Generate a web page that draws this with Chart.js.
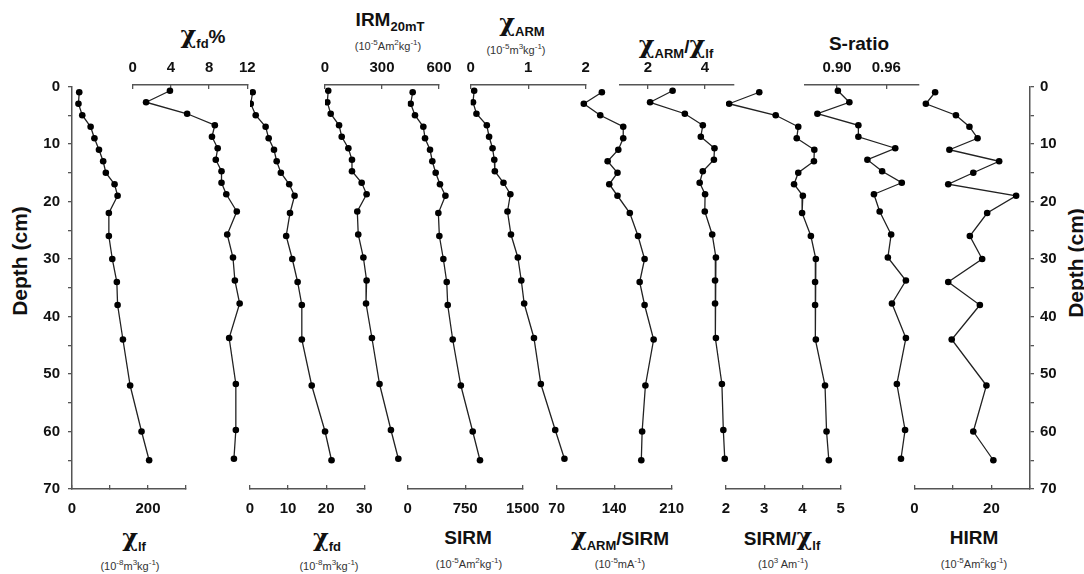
<!DOCTYPE html>
<html>
<head>
<meta charset="utf-8">
<script src="https://cdn.jsdelivr.net/npm/chart.js@4.4.0/dist/chart.umd.min.js"></script>
<style>
  body { margin: 0; background: #fff; }
  #wrap { position: relative; width: 1084px; height: 574px; font-family: "Liberation Sans", Arial, sans-serif; color: #111; }
  #wrap canvas { position: absolute; left: 0; top: 0; }
  .t { position: absolute; transform: translate(-50%, -50%); white-space: nowrap; font-weight: bold; font-size: 19px; line-height: 1; }
  .t .chi { font-family: "DejaVu Serif", serif; font-size: 24px; font-weight: bold; }
  .t sub { font-size: 13px; position: relative; top: 5px; vertical-align: baseline; line-height: 0; }
  .u { position: absolute; transform: translate(-50%, -50%); white-space: nowrap; font-size: 11px; color: #333; line-height: 1; }
  .u sup { font-size: 8px; position: relative; top: -5px; vertical-align: baseline; line-height: 0; }
  .rot { transform: translate(-50%, -50%) rotate(-90deg); font-size: 21px; }
</style>
</head>
<body>
<div id="wrap">
  <!-- top titles -->
  <div class="t" style="left:203px;top:35px"><span class="chi">χ</span><sub>fd</sub>%</div>
  <div class="t" style="left:390px;top:19px">IRM<sub>20mT</sub></div>
  <div class="u" style="left:388px;top:46px">(10<sup>-5</sup>Am<sup>2</sup>kg<sup>-1</sup>)</div>
  <div class="t" style="left:522px;top:23px"><span class="chi">χ</span><sub>ARM</sub></div>
  <div class="u" style="left:516px;top:50px">(10<sup>-5</sup>m<sup>3</sup>kg<sup>-1</sup>)</div>
  <div class="t" style="left:676px;top:45px"><span class="chi">χ</span><sub>ARM</sub>/<span class="chi">χ</span><sub>lf</sub></div>
  <div class="t" style="left:859px;top:43px">S-ratio</div>
  <!-- bottom titles -->
  <div class="t" style="left:134px;top:538px"><span class="chi">χ</span><sub>lf</sub></div>
  <div class="u" style="left:130px;top:566px">(10<sup>-8</sup>m<sup>3</sup>kg<sup>-1</sup>)</div>
  <div class="t" style="left:327px;top:538px"><span class="chi">χ</span><sub>fd</sub></div>
  <div class="u" style="left:329px;top:566px">(10<sup>-8</sup>m<sup>3</sup>kg<sup>-1</sup>)</div>
  <div class="t" style="left:468px;top:537px">SIRM</div>
  <div class="u" style="left:469px;top:564px">(10<sup>-5</sup>Am<sup>2</sup>kg<sup>-1</sup>)</div>
  <div class="t" style="left:620px;top:537px"><span class="chi">χ</span><sub>ARM</sub>/SIRM</div>
  <div class="u" style="left:620px;top:564px">(10<sup>-5</sup>mA<sup>-1</sup>)</div>
  <div class="t" style="left:782px;top:537px">SIRM/<span class="chi">χ</span><sub>lf</sub></div>
  <div class="u" style="left:783px;top:564px">(10<sup>3</sup> Am<sup>-1</sup>)</div>
  <div class="t" style="left:974px;top:537px">HIRM</div>
  <div class="u" style="left:974px;top:564px">(10<sup>-5</sup>Am<sup>2</sup>kg<sup>-1</sup>)</div>
  <!-- depth titles -->
  <div class="t rot" style="left:19px;top:261px">Depth (cm)</div>
  <div class="t rot" style="left:1075px;top:263px">Depth (cm)</div>
</div>
<script>
// sample depths (cm), shared by every profile
const depth = [1, 3, 5, 7, 9, 11, 13, 15, 17, 19, 22, 26, 30, 34, 38, 44, 52, 60, 65];

const chiLf = [19, 17, 27, 49, 59, 71, 82, 89, 112, 120, 97, 97, 106, 118, 120, 134, 153, 183, 203];
const chiFdPct = [3.9, 1.4, 5.7, 8.6, 8.3, 8.9, 8.7, 9.3, 9.3, 9.8, 10.9, 9.9, 10.5, 10.7, 11.2, 10.1, 10.8, 10.8, 10.6];
const chiFd = [0.7, 0.2, 1.5, 4.1, 4.9, 6.3, 7.0, 8.1, 10.3, 11.7, 10.5, 9.5, 11.1, 12.5, 13.6, 13.6, 16.2, 19.7, 21.4];
const irm20 = [17, 12, 30, 74, 88, 123, 142, 142, 193, 219, 170, 175, 202, 219, 216, 247, 287, 347, 386];
const sirm = [65, 39, 95, 204, 226, 291, 321, 365, 421, 492, 400, 413, 465, 509, 522, 587, 693, 848, 943];
const chiArm = [0.06, 0.04, 0.10, 0.28, 0.32, 0.38, 0.41, 0.42, 0.57, 0.69, 0.64, 0.70, 0.82, 0.88, 0.93, 1.10, 1.22, 1.47, 1.63];
const chiArmSirm = [125, 103, 123, 151, 151, 145, 132, 144, 134, 144, 159, 169, 177, 171, 177, 188, 178, 174, 173];
const chiArmChiLf = [2.87, 2.08, 3.3, 3.93, 3.86, 4.34, 4.32, 3.93, 3.82, 4.01, 4.0, 4.26, 4.39, 4.36, 4.36, 4.39, 4.6, 4.65, 4.7];
const sirmChiLf = [2.87, 2.08, 3.3, 3.89, 3.85, 4.31, 4.30, 3.89, 3.78, 4.01, 3.99, 4.22, 4.35, 4.33, 4.33, 4.35, 4.59, 4.63, 4.69];
const sRatio = [0.901, 0.915, 0.876, 0.926, 0.926, 0.971, 0.937, 0.955, 0.979, 0.945, 0.952, 0.966, 0.962, 0.984, 0.967, 0.984, 0.973, 0.983, 0.978];
const hirm = [5.4, 3.0, 10.8, 14.3, 16.4, 9.1, 22.0, 15.3, 8.8, 26.4, 18.9, 14.4, 17.6, 8.8, 17.0, 9.7, 18.7, 15.3, 20.5];

// axis ticks / labels
const depthTicks = [0, 5, 10, 15, 20, 25, 30, 35, 40, 45, 50, 55, 60, 65, 70];
const chiLfTicks = [0, 100, 200, 300], chiLfLabels = [0, 200];
const chiFdPctTicks = [0, 4, 8, 12];
const chiFdTicks = [0, 10, 20, 30];
const irmTicks = [0, 300, 600];
const sirmTicks = [0, 750, 1500];
const chiArmTicks = [0, 1, 2];
const chiArmSirmTicks = [70, 140, 210];
const chiArmChiLfTicks = [2, 4];
const sirmChiLfTicks = [2, 3, 4, 5];
const sRatioTicks = [0.90, 0.96];
const hirmTicks = [0, 10, 20, 30], hirmLabels = [0, 20];

const W = 1084, H = 574, TOP = 86.5, BOTTOM = 489;
const BOX = 40;        // fixed room given to each shown axis so its labels are not clipped
const TOP_SHIFT = 1.5; // the top-axis panels sit a touch higher in the original
const AXIS = '#555', INK = '#111';
const wrap = document.getElementById('wrap');

Chart.defaults.font.family = '"Liberation Sans", Arial, sans-serif';

function panel(cfg) {
  const c = document.createElement('canvas');
  c.width = W;
  c.height = H;
  wrap.appendChild(c);
  const labels = cfg.labels || cfg.ticks;
  const top = cfg.pos === 'top';
  const areaTop = top ? TOP - TOP_SHIFT : TOP;
  const areaBottom = top ? BOTTOM - TOP_SHIFT : BOTTOM;
  new Chart(c, {
    type: 'scatter',
    data: {
      datasets: [{
        data: depth.map((d, i) => ({ x: cfg.values[i], y: d })),
        showLine: true,
        borderColor: '#222',
        borderWidth: 1.3,
        pointRadius: 3.3,
        pointBackgroundColor: '#000',
        pointBorderWidth: 0
      }]
    },
    options: {
      responsive: false,
      animation: false,
      events: [],
      plugins: { legend: { display: false }, tooltip: { enabled: false } },
      layout: {
        padding: {
          left: cfg.yPos === 'left' ? cfg.left - BOX : cfg.left,
          right: cfg.yPos === 'right' ? W - cfg.right - BOX : W - cfg.right,
          top: top ? areaTop - BOX : areaTop,
          bottom: top ? H - areaBottom : H - areaBottom - BOX
        }
      },
      scales: {
        x: {
          type: 'linear',
          position: cfg.pos,
          min: cfg.min,
          max: cfg.max,
          afterFit: s => { s.height = BOX; },
          afterBuildTicks: s => { s.ticks = cfg.ticks.map(v => ({ value: v })); },
          ticks: {
            autoSkip: false,
            maxRotation: 0,
            padding: top ? 12 : 15,
            color: INK,
            font: { size: 15, weight: 'bold' },
            callback: v => labels.includes(v) ? (cfg.fmt ? cfg.fmt(v) : String(v)) : ''
          },
          grid: { drawOnChartArea: false, tickLength: -4, color: AXIS, lineWidth: 1.3 },
          border: { color: AXIS, width: 1.5 }
        },
        y: {
          type: 'linear',
          reverse: true,
          min: 0,
          max: 70,
          display: !!cfg.yPos,
          position: cfg.yPos || 'left',
          afterFit: s => { s.width = cfg.yPos ? BOX : 0; },
          afterBuildTicks: s => { s.ticks = depthTicks.map(v => ({ value: v })); },
          ticks: {
            autoSkip: false,
            padding: cfg.yPos === 'right' ? 6 : 8,
            color: INK,
            font: { size: 15, weight: 'bold' },
            callback: v => v % 10 === 0 ? String(v) : ''
          },
          grid: { drawOnChartArea: false, tickLength: 4, color: AXIS, lineWidth: 1.3 },
          border: { color: AXIS, width: 1.5 }
        }
      }
    }
  });
}

panel({ values: chiLf, left: 72, right: 186, min: 0, max: 300, pos: 'bottom', ticks: chiLfTicks, labels: chiLfLabels, yPos: 'left' });
panel({ values: chiFdPct, left: 132.7, right: 247.3, min: 0, max: 12, pos: 'top', ticks: chiFdPctTicks });
panel({ values: chiFd, left: 250, right: 364.3, min: 0, max: 30, pos: 'bottom', ticks: chiFdTicks });
panel({ values: irm20, left: 325, right: 439, min: 0, max: 600, pos: 'top', ticks: irmTicks });
panel({ values: sirm, left: 407.7, right: 522.7, min: 0, max: 1500, pos: 'bottom', ticks: sirmTicks });
panel({ values: chiArm, left: 470.7, right: 585.7, min: 0, max: 2, pos: 'top', ticks: chiArmTicks });
panel({ values: chiArmSirm, left: 556.7, right: 671.7, min: 70, max: 210, pos: 'bottom', ticks: chiArmSirmTicks });
panel({ values: chiArmChiLf, left: 619.3, right: 733.3, min: 1, max: 5, pos: 'top', ticks: chiArmChiLfTicks });
panel({ values: sirmChiLf, left: 726, right: 840.7, min: 2, max: 5, pos: 'bottom', ticks: sirmChiLfTicks });
panel({ values: sRatio, left: 804.3, right: 919, min: 0.86, max: 1.0, pos: 'top', ticks: sRatioTicks, fmt: v => v.toFixed(2) });
panel({ values: hirm, left: 914.3, right: 1030, min: 0, max: 30, pos: 'bottom', ticks: hirmTicks, labels: hirmLabels, yPos: 'right' });
</script>
</body>
</html>
